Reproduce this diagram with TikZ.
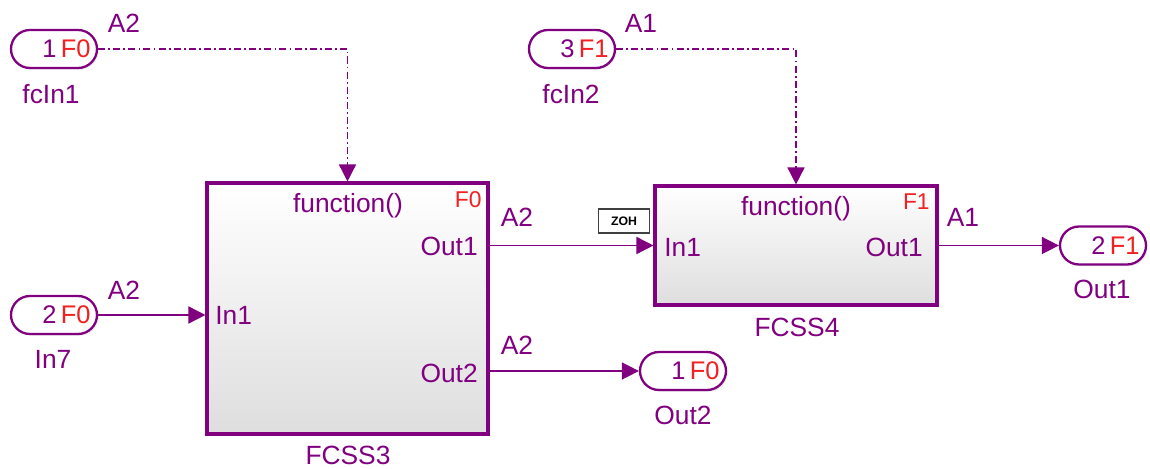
\documentclass[tikz,border=0pt]{standalone}
\usepackage{fontspec}
\setmainfont{Liberation Sans}
\usetikzlibrary{arrows.meta, shadows}
\definecolor{sigpurple}{RGB}{128,0,128}
\definecolor{fcred}{RGB}{242,32,32}
\tikzset{
    block/.style={rectangle, draw=sigpurple, line width=1.8pt, top color=white, bottom color=black!13, drop shadow={opacity=0.2, shadow xshift=1.2pt, shadow yshift=-1.2pt}},
    port/.style={rectangle, rounded corners=0.38cm, draw=sigpurple, line width=1.3pt, fill=white, minimum height=0.76cm, text width=1.46cm, inner xsep=0.13cm, align=right, text=sigpurple, font=\fontsize{14.5}{16}\selectfont, drop shadow={opacity=0.15, shadow xshift=1pt, shadow yshift=-1pt}},
    sig/.style={text=sigpurple, font=\fontsize{15}{17}\selectfont},
    fcid/.style={text=fcred, font=\fontsize{13}{15}\selectfont},
    conn/.style={draw=sigpurple, line width=0.9pt, -{Triangle[length=3.4mm, width=3.4mm]}},
    trig/.style={conn, dash pattern=on 4pt off 1.8pt on 1pt off 1.8pt}
}
\begin{document}
\begin{tikzpicture}[x=0.02cm, y=-0.02cm]
    \useasboundingbox (0,0) rectangle (1150,469);

    % Function-call inports
    \node[port] (fcin1) at (54,49) {1\,\textcolor{fcred}{F0}};
    \node[sig] (fcin1name) at (51,94) {fcIn1};
    \node[port] (fcin2) at (572,49) {3\,\textcolor{fcred}{F1}};
    \node[sig] (fcin2name) at (571,94) {fcIn2};

    % Data ports
    \node[port] (in7) at (54,315) {2\,\textcolor{fcred}{F0}};
    \node[sig] (in7name) at (53,359) {In7};
    \node[port] (out2) at (683,371) {1\,\textcolor{fcred}{F0}};
    \node[sig] (out2name) at (683,415) {Out2};
    \node[port] (out1) at (1103,245.5) {2\,\textcolor{fcred}{F1}};
    \node[sig] (out1name) at (1102,289) {Out1};

    % FCSS3 subsystem
    \node[block, minimum width=5.62cm, minimum height=5.02cm] (fcss3) at (347.5,308.5) {};
    \node[sig] (fcss3name) at (348,455) {FCSS3};
    \node[sig] (fcss3fn) at (348,206) {function()};
    \node[fcid, anchor=east, inner sep=0pt] (fcss3id) at (482,200) {F0};
    \node[sig, anchor=west, inner sep=0pt] (fcss3in1) at (215,315) {In1};
    \node[sig, anchor=east, inner sep=0pt] (fcss3out1) at (478,246) {Out1};
    \node[sig, anchor=east, inner sep=0pt] (fcss3out2) at (478,373) {Out2};

    % FCSS4 subsystem
    \node[block, minimum width=5.64cm, minimum height=2.38cm] (fcss4) at (796,245.5) {};
    \node[sig] (fcss4name) at (797,327) {FCSS4};
    \node[sig] (fcss4fn) at (796,209) {function()};
    \node[fcid, anchor=east, inner sep=0pt] (fcss4id) at (930,202) {F1};
    \node[sig, anchor=west, inner sep=0pt] (fcss4in1) at (664,247) {In1};
    \node[sig, anchor=east, inner sep=0pt] (fcss4out1) at (923,247) {Out1};
    \node[rectangle, draw=black!75, line width=0.8pt, fill=white, minimum width=1.02cm, minimum height=0.48cm, inner sep=0pt, font=\fontsize{7}{8}\selectfont\bfseries] (zoh) at (624,221) {ZOH};

    % Connections
    \draw[trig] (fcin1.east) -| (fcss3.north);
    \draw[trig] (fcin2.east) -| (fcss4.north);
    \draw[conn] (in7.east) -- (in7.east -| fcss3.west);
    \draw[conn] (fcss3.east |- fcss4.west) -- (fcss4.west);
    \draw[conn] (fcss3.east |- out2.west) -- (out2.west);
    \draw[conn] (fcss4.east) -- (out1.west);

    % Signal labels
    \node[sig] (a2top) at (124,23) {A2};
    \node[sig] (a1top) at (641,23) {A1};
    \node[sig] (a2in) at (124,290) {A2};
    \node[sig] (a2mid) at (517,217) {A2};
    \node[sig] (a2low) at (517,345) {A2};
    \node[sig] (a1out) at (963,217) {A1};
\end{tikzpicture}
\end{document}
